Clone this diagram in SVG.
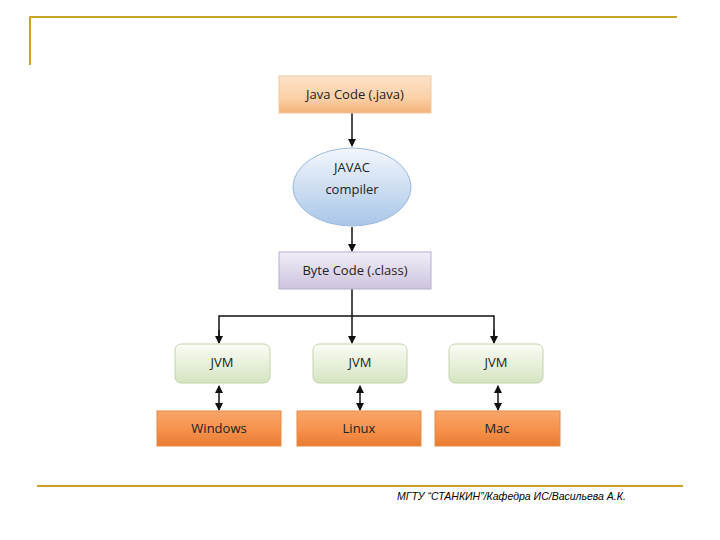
<svg xmlns="http://www.w3.org/2000/svg" width="720" height="540" viewBox="0 0 720 540">
<style>
text{font-family:"Open Sans","DejaVu Sans",sans-serif;font-size:13px;fill:#222;text-anchor:middle}
.c{stroke:#111;stroke-width:1.5;fill:none}
.f{font-family:"Liberation Sans",Arial,sans-serif;font-size:10.5px;font-style:italic;fill:#000;text-anchor:start}
</style>
<defs>
<linearGradient id="pe" x1="0" y1="0" x2="0" y2="1"><stop offset="0" stop-color="#fde2c8"/><stop offset="0.6" stop-color="#fbd0a6"/><stop offset="1" stop-color="#f3b27a"/></linearGradient>
<linearGradient id="la" x1="0" y1="0" x2="0" y2="1"><stop offset="0" stop-color="#f1eef7"/><stop offset="1" stop-color="#cdc3df"/></linearGradient>
<linearGradient id="bl" x1="0" y1="0" x2="0" y2="1"><stop offset="0" stop-color="#f3f7fc"/><stop offset="1" stop-color="#a9c6e8"/></linearGradient>
<linearGradient id="gr" x1="0" y1="0" x2="0" y2="1"><stop offset="0" stop-color="#fafcf5"/><stop offset="1" stop-color="#d6e4c2"/></linearGradient>
<linearGradient id="or" x1="0" y1="0" x2="0" y2="1"><stop offset="0" stop-color="#f9a66a"/><stop offset="0.5" stop-color="#f6934f"/><stop offset="1" stop-color="#e97b32"/></linearGradient>
<marker id="a" markerWidth="8" markerHeight="8" refX="7" refY="4" orient="auto" markerUnits="userSpaceOnUse"><path d="M0,0 L8,4 L0,8 z" fill="#111"/></marker>
<marker id="s" markerWidth="8" markerHeight="8" refX="1" refY="4" orient="auto" markerUnits="userSpaceOnUse"><path d="M8,0 L0,4 L8,8 z" fill="#111"/></marker>
</defs>
<g id="frame" stroke="#c9a227" stroke-width="2" fill="none">
<path d="M30,65 V17 H677"/>
<path d="M37,486 H683"/>
</g>
<g id="connectors">
<line class="c" x1="352" y1="113" x2="352" y2="146" marker-end="url(#a)"/>
<line class="c" x1="352" y1="227" x2="352" y2="251" marker-end="url(#a)"/>
<line class="c" x1="352" y1="289" x2="352" y2="343" marker-end="url(#a)"/>
<path class="c" stroke-width="1" d="M219,343 V316 H494 V343"/>
<line class="c" x1="219" y1="330" x2="219" y2="343" marker-end="url(#a)"/>
<line class="c" x1="494" y1="330" x2="494" y2="343" marker-end="url(#a)"/>
<line class="c" x1="219" y1="386" x2="219" y2="410" marker-start="url(#s)" marker-end="url(#a)"/>
<line class="c" x1="360" y1="386" x2="360" y2="410" marker-start="url(#s)" marker-end="url(#a)"/>
<line class="c" x1="498" y1="386" x2="498" y2="410" marker-start="url(#s)" marker-end="url(#a)"/>
</g>
<g id="java"><rect x="279" y="76" width="152" height="37" fill="url(#pe)" stroke="#f0c8a0"/><text x="355" y="99">Java Code (.java)</text></g>
<g id="javac"><ellipse cx="352" cy="187" rx="59" ry="39" fill="url(#bl)" stroke="#9ab8dc"/><text x="352" y="172">JAVAC</text><text x="352" y="194">compiler</text></g>
<g id="byte"><rect x="279" y="252" width="152" height="37" fill="url(#la)" stroke="#b8add0"/><text x="355" y="275">Byte Code (.class)</text></g>
<g id="jvm1"><rect x="175" y="344" width="95" height="39" rx="6" fill="url(#gr)" stroke="#c3d4ac"/><text x="222" y="367">JVM</text></g>
<g id="jvm2"><rect x="313" y="344" width="94" height="39" rx="6" fill="url(#gr)" stroke="#c3d4ac"/><text x="360" y="367">JVM</text></g>
<g id="jvm3"><rect x="449" y="344" width="94" height="39" rx="6" fill="url(#gr)" stroke="#c3d4ac"/><text x="496" y="367">JVM</text></g>
<g id="win"><rect x="157" y="411" width="124" height="35" fill="url(#or)" stroke="#e88a45"/><text x="219" y="433">Windows</text></g>
<g id="linux"><rect x="297" y="411" width="124" height="35" fill="url(#or)" stroke="#e88a45"/><text x="359" y="433">Linux</text></g>
<g id="mac"><rect x="435" y="411" width="125" height="35" fill="url(#or)" stroke="#e88a45"/><text x="497" y="433">Mac</text></g>
<text class="f" x="397" y="500">МГТУ “СТАНКИН”/Кафедра ИС/Васильева А.К.</text>
</svg>
